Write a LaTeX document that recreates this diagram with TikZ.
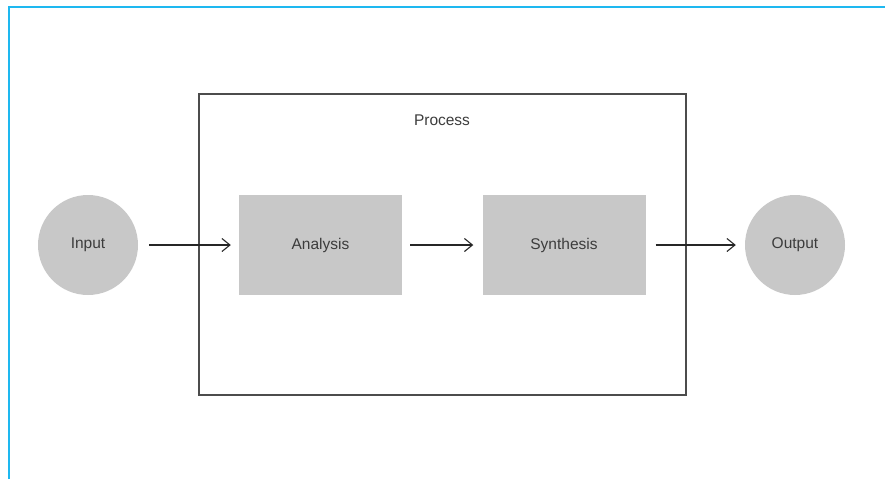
\documentclass[tikz,border=0pt]{standalone}
\usepackage{fontspec}
\setmainfont{Liberation Sans}
\usetikzlibrary{arrows.meta}
\definecolor{framecyan}{RGB}{30,184,240}
\definecolor{boxgray}{RGB}{200,200,200}
\definecolor{inkgray}{RGB}{60,60,60}
\begin{document}
\begin{tikzpicture}[x=1pt,y=-1pt,
  every node/.style={font=\fontsize{15.5}{17}\selectfont, text=inkgray},
  stagebox/.style={fill=boxgray, draw=none, minimum width=163pt, minimum height=100pt, inner sep=0pt},
  endpoint/.style={circle, fill=boxgray, draw=none, minimum size=100pt, inner sep=0pt},
  flow/.style={draw=black!85, line width=1.1pt, -{Straight Barb[length=8pt,width=13pt,line width=1.1pt]}}]
  \useasboundingbox (0,0) rectangle (885,479);
  % outer page frame (top and left edges)
  \draw[framecyan, line width=2pt] (9,479) -- (9,7) -- (885,7);
  % process container
  \draw[draw=black!70, line width=1.5pt] (199,94) rectangle (686,395);
  \node (proc) at (442,120) {Process};
  % nodes
  \node[endpoint] (in) at (88,245) {Input};
  \node[stagebox] (ana) at (320.5,245) {Analysis};
  \node[stagebox] (syn) at (564,245) {Synthesis};
  \node[endpoint] (out) at (795,245) {Output};
  % connectors
  \draw[flow] ([xshift=11pt]in.east) -- ([xshift=-8pt]ana.west);
  \draw[flow] ([xshift=8pt]ana.east) -- ([xshift=-9pt]syn.west);
  \draw[flow] ([xshift=10pt]syn.east) -- ([xshift=-9pt]out.west);
\end{tikzpicture}
\end{document}
